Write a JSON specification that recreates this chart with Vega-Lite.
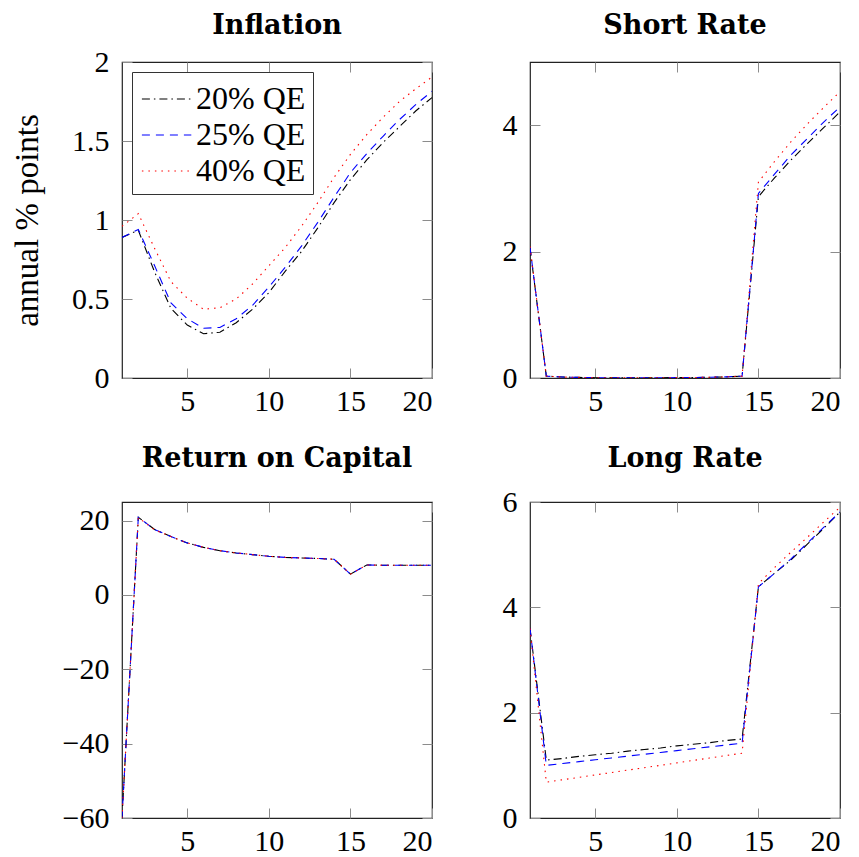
{
  "$schema": "https://vega.github.io/schema/vega-lite/v6.json",
  "padding": {"left": 10, "top": 10, "right": 5, "bottom": 5},
  "config": {
    "font": "Liberation Serif",
    "view": {"stroke": "#222222", "strokeWidth": 1.2},
    "axis": {
      "grid": false,
      "domain": false,
      "tickSize": -10,
      "tickColor": "#8c8c8c",
      "tickWidth": 1,
      "format": "~f",
      "labelFont": "Liberation Serif",
      "labelFontSize": 30,
      "labelColor": "#000000",
      "titleFont": "Liberation Serif",
      "titleFontSize": 33,
      "titleFontWeight": "normal",
      "titleColor": "#000000"
    },
    "title": {"font": "DejaVu Serif", "fontSize": 27, "fontWeight": "bold", "color": "#000000", "frame": "group", "anchor": "middle", "baseline": "alphabetic"},
    "line": {"strokeWidth": 1.1}
  },
  "datasets": {
    "infl": [
      {"t":1,"s":"20% QE","v":0.89},{"t":1,"s":"25% QE","v":0.89},{"t":1,"s":"40% QE","v":0.96},
      {"t":2,"s":"20% QE","v":0.935},{"t":2,"s":"25% QE","v":0.94},{"t":2,"s":"40% QE","v":1.04},
      {"t":3,"s":"20% QE","v":0.67},{"t":3,"s":"25% QE","v":0.71},{"t":3,"s":"40% QE","v":0.82},
      {"t":4,"s":"20% QE","v":0.44},{"t":4,"s":"25% QE","v":0.475},{"t":4,"s":"40% QE","v":0.61},
      {"t":5,"s":"20% QE","v":0.335},{"t":5,"s":"25% QE","v":0.375},{"t":5,"s":"40% QE","v":0.505},
      {"t":6,"s":"20% QE","v":0.28},{"t":6,"s":"25% QE","v":0.315},{"t":6,"s":"40% QE","v":0.435},
      {"t":7,"s":"20% QE","v":0.29},{"t":7,"s":"25% QE","v":0.32},{"t":7,"s":"40% QE","v":0.445},
      {"t":8,"s":"20% QE","v":0.35},{"t":8,"s":"25% QE","v":0.375},{"t":8,"s":"40% QE","v":0.5},
      {"t":9,"s":"20% QE","v":0.435},{"t":9,"s":"25% QE","v":0.46},{"t":9,"s":"40% QE","v":0.595},
      {"t":10,"s":"20% QE","v":0.54},{"t":10,"s":"25% QE","v":0.575},{"t":10,"s":"40% QE","v":0.71},
      {"t":11,"s":"20% QE","v":0.675},{"t":11,"s":"25% QE","v":0.7},{"t":11,"s":"40% QE","v":0.825},
      {"t":12,"s":"20% QE","v":0.8},{"t":12,"s":"25% QE","v":0.835},{"t":12,"s":"40% QE","v":0.96},
      {"t":13,"s":"20% QE","v":0.95},{"t":13,"s":"25% QE","v":0.985},{"t":13,"s":"40% QE","v":1.11},
      {"t":14,"s":"20% QE","v":1.11},{"t":14,"s":"25% QE","v":1.145},{"t":14,"s":"40% QE","v":1.27},
      {"t":15,"s":"20% QE","v":1.255},{"t":15,"s":"25% QE","v":1.3},{"t":15,"s":"40% QE","v":1.415},
      {"t":16,"s":"20% QE","v":1.38},{"t":16,"s":"25% QE","v":1.42},{"t":16,"s":"40% QE","v":1.54},
      {"t":17,"s":"20% QE","v":1.49},{"t":17,"s":"25% QE","v":1.53},{"t":17,"s":"40% QE","v":1.65},
      {"t":18,"s":"20% QE","v":1.59},{"t":18,"s":"25% QE","v":1.635},{"t":18,"s":"40% QE","v":1.75},
      {"t":19,"s":"20% QE","v":1.69},{"t":19,"s":"25% QE","v":1.73},{"t":19,"s":"40% QE","v":1.83},
      {"t":20,"s":"20% QE","v":1.775},{"t":20,"s":"25% QE","v":1.815},{"t":20,"s":"40% QE","v":1.905}
    ],
    "short": [
      {"t":1,"s":"20% QE","v":2.06},{"t":1,"s":"25% QE","v":2.07},{"t":1,"s":"40% QE","v":2.08},
      {"t":2,"s":"20% QE","v":0.03},{"t":2,"s":"25% QE","v":0.03},{"t":2,"s":"40% QE","v":0.03},
      {"t":3,"s":"20% QE","v":0.015},{"t":3,"s":"25% QE","v":0.015},{"t":3,"s":"40% QE","v":0.015},
      {"t":4,"s":"20% QE","v":0.01},{"t":4,"s":"25% QE","v":0.01},{"t":4,"s":"40% QE","v":0.01},
      {"t":5,"s":"20% QE","v":0.005},{"t":5,"s":"25% QE","v":0.005},{"t":5,"s":"40% QE","v":0.005},
      {"t":6,"s":"20% QE","v":0.003},{"t":6,"s":"25% QE","v":0.003},{"t":6,"s":"40% QE","v":0.003},
      {"t":7,"s":"20% QE","v":0.003},{"t":7,"s":"25% QE","v":0.003},{"t":7,"s":"40% QE","v":0.003},
      {"t":8,"s":"20% QE","v":0.003},{"t":8,"s":"25% QE","v":0.003},{"t":8,"s":"40% QE","v":0.003},
      {"t":9,"s":"20% QE","v":0.004},{"t":9,"s":"25% QE","v":0.004},{"t":9,"s":"40% QE","v":0.004},
      {"t":10,"s":"20% QE","v":0.006},{"t":10,"s":"25% QE","v":0.006},{"t":10,"s":"40% QE","v":0.006},
      {"t":11,"s":"20% QE","v":0.008},{"t":11,"s":"25% QE","v":0.008},{"t":11,"s":"40% QE","v":0.008},
      {"t":12,"s":"20% QE","v":0.012},{"t":12,"s":"25% QE","v":0.012},{"t":12,"s":"40% QE","v":0.012},
      {"t":13,"s":"20% QE","v":0.018},{"t":13,"s":"25% QE","v":0.018},{"t":13,"s":"40% QE","v":0.018},
      {"t":14,"s":"20% QE","v":0.03},{"t":14,"s":"25% QE","v":0.03},{"t":14,"s":"40% QE","v":0.03},
      {"t":15,"s":"20% QE","v":2.87},{"t":15,"s":"25% QE","v":2.92},{"t":15,"s":"40% QE","v":3.1},
      {"t":16,"s":"20% QE","v":3.17},{"t":16,"s":"25% QE","v":3.23},{"t":16,"s":"40% QE","v":3.43},
      {"t":17,"s":"20% QE","v":3.45},{"t":17,"s":"25% QE","v":3.53},{"t":17,"s":"40% QE","v":3.74},
      {"t":18,"s":"20% QE","v":3.71},{"t":18,"s":"25% QE","v":3.79},{"t":18,"s":"40% QE","v":4.02},
      {"t":19,"s":"20% QE","v":3.96},{"t":19,"s":"25% QE","v":4.05},{"t":19,"s":"40% QE","v":4.28},
      {"t":20,"s":"20% QE","v":4.21},{"t":20,"s":"25% QE","v":4.29},{"t":20,"s":"40% QE","v":4.53}
    ],
    "roc": [
      {"t":1,"s":"20% QE","v":-60},{"t":1,"s":"25% QE","v":-60},{"t":1,"s":"40% QE","v":-60},
      {"t":2,"s":"20% QE","v":20.9},{"t":2,"s":"25% QE","v":20.9},{"t":2,"s":"40% QE","v":20.8},
      {"t":3,"s":"20% QE","v":17.6},{"t":3,"s":"25% QE","v":17.6},{"t":3,"s":"40% QE","v":17.5},
      {"t":4,"s":"20% QE","v":15.7},{"t":4,"s":"25% QE","v":15.7},{"t":4,"s":"40% QE","v":15.7},
      {"t":5,"s":"20% QE","v":14.0},{"t":5,"s":"25% QE","v":14.0},{"t":5,"s":"40% QE","v":14.0},
      {"t":6,"s":"20% QE","v":12.8},{"t":6,"s":"25% QE","v":12.8},{"t":6,"s":"40% QE","v":12.8},
      {"t":7,"s":"20% QE","v":11.9},{"t":7,"s":"25% QE","v":11.9},{"t":7,"s":"40% QE","v":11.9},
      {"t":8,"s":"20% QE","v":11.3},{"t":8,"s":"25% QE","v":11.3},{"t":8,"s":"40% QE","v":11.3},
      {"t":9,"s":"20% QE","v":10.85},{"t":9,"s":"25% QE","v":10.85},{"t":9,"s":"40% QE","v":10.85},
      {"t":10,"s":"20% QE","v":10.4},{"t":10,"s":"25% QE","v":10.4},{"t":10,"s":"40% QE","v":10.4},
      {"t":11,"s":"20% QE","v":10.1},{"t":11,"s":"25% QE","v":10.1},{"t":11,"s":"40% QE","v":10.1},
      {"t":12,"s":"20% QE","v":9.95},{"t":12,"s":"25% QE","v":9.95},{"t":12,"s":"40% QE","v":9.95},
      {"t":13,"s":"20% QE","v":9.8},{"t":13,"s":"25% QE","v":9.8},{"t":13,"s":"40% QE","v":9.8},
      {"t":14,"s":"20% QE","v":9.6},{"t":14,"s":"25% QE","v":9.6},{"t":14,"s":"40% QE","v":9.6},
      {"t":15,"s":"20% QE","v":5.6},{"t":15,"s":"25% QE","v":5.6},{"t":15,"s":"40% QE","v":5.6},
      {"t":16,"s":"20% QE","v":8.05},{"t":16,"s":"25% QE","v":8.05},{"t":16,"s":"40% QE","v":8.05},
      {"t":17,"s":"20% QE","v":8.0},{"t":17,"s":"25% QE","v":8.0},{"t":17,"s":"40% QE","v":8.0},
      {"t":18,"s":"20% QE","v":8.0},{"t":18,"s":"25% QE","v":8.0},{"t":18,"s":"40% QE","v":8.0},
      {"t":19,"s":"20% QE","v":8.0},{"t":19,"s":"25% QE","v":8.0},{"t":19,"s":"40% QE","v":8.0},
      {"t":20,"s":"20% QE","v":8.0},{"t":20,"s":"25% QE","v":8.0},{"t":20,"s":"40% QE","v":8.0}
    ],
    "long": [
      {"t":1,"s":"20% QE","v":3.6},{"t":1,"s":"25% QE","v":3.6},{"t":1,"s":"40% QE","v":3.6},
      {"t":2,"s":"20% QE","v":1.1},{"t":2,"s":"25% QE","v":1.0},{"t":2,"s":"40% QE","v":0.68},
      {"t":3,"s":"20% QE","v":1.13},{"t":3,"s":"25% QE","v":1.035},{"t":3,"s":"40% QE","v":0.726},
      {"t":4,"s":"20% QE","v":1.17},{"t":4,"s":"25% QE","v":1.07},{"t":4,"s":"40% QE","v":0.772},
      {"t":5,"s":"20% QE","v":1.2},{"t":5,"s":"25% QE","v":1.105},{"t":5,"s":"40% QE","v":0.818},
      {"t":6,"s":"20% QE","v":1.23},{"t":6,"s":"25% QE","v":1.14},{"t":6,"s":"40% QE","v":0.864},
      {"t":7,"s":"20% QE","v":1.27},{"t":7,"s":"25% QE","v":1.175},{"t":7,"s":"40% QE","v":0.91},
      {"t":8,"s":"20% QE","v":1.3},{"t":8,"s":"25% QE","v":1.21},{"t":8,"s":"40% QE","v":0.955},
      {"t":9,"s":"20% QE","v":1.33},{"t":9,"s":"25% QE","v":1.245},{"t":9,"s":"40% QE","v":1.0},
      {"t":10,"s":"20% QE","v":1.37},{"t":10,"s":"25% QE","v":1.28},{"t":10,"s":"40% QE","v":1.047},
      {"t":11,"s":"20% QE","v":1.4},{"t":11,"s":"25% QE","v":1.315},{"t":11,"s":"40% QE","v":1.093},
      {"t":12,"s":"20% QE","v":1.43},{"t":12,"s":"25% QE","v":1.35},{"t":12,"s":"40% QE","v":1.139},
      {"t":13,"s":"20% QE","v":1.47},{"t":13,"s":"25% QE","v":1.385},{"t":13,"s":"40% QE","v":1.185},
      {"t":14,"s":"20% QE","v":1.5},{"t":14,"s":"25% QE","v":1.42},{"t":14,"s":"40% QE","v":1.23},
      {"t":15,"s":"20% QE","v":4.39},{"t":15,"s":"25% QE","v":4.39},{"t":15,"s":"40% QE","v":4.45},
      {"t":16,"s":"20% QE","v":4.65},{"t":16,"s":"25% QE","v":4.65},{"t":16,"s":"40% QE","v":4.76},
      {"t":17,"s":"20% QE","v":4.9},{"t":17,"s":"25% QE","v":4.92},{"t":17,"s":"40% QE","v":5.05},
      {"t":18,"s":"20% QE","v":5.2},{"t":18,"s":"25% QE","v":5.22},{"t":18,"s":"40% QE","v":5.33},
      {"t":19,"s":"20% QE","v":5.5},{"t":19,"s":"25% QE","v":5.52},{"t":19,"s":"40% QE","v":5.62},
      {"t":20,"s":"20% QE","v":5.81},{"t":20,"s":"25% QE","v":5.81},{"t":20,"s":"40% QE","v":5.9}
    ]
  },
  "columns": 2,
  "spacing": {"row": 124, "column": 98},
  "bounds": "flush",
  "resolve": {"scale": {"color": "independent", "strokeDash": "independent"}},
  "concat": [
    {
      "width": 310, "height": 316,
      "title": {"text": "Inflation", "offset": 7},
      "data": {"name": "infl"},
      "layer": [
        {
          "mark": {"type": "line", "clip": true},
          "encoding": {
            "x": {"field": "t", "type": "quantitative", "scale": {"domain": [1, 20], "nice": false, "zero": false}, "axis": {"values": [5, 10, 15, 20], "title": null, "labelPadding": 18}},
            "y": {"field": "v", "type": "quantitative", "scale": {"domain": [0, 2], "nice": false, "zero": false}, "axis": {"values": [0, 0.5, 1, 1.5, 2], "title": "annual % points", "labelPadding": 23, "titlePadding": 27}},
            "color": {"field": "s", "type": "nominal", "scale": {"domain": ["20% QE", "25% QE", "40% QE"], "range": ["#000000", "#0000ff", "#ff0000"]},
              "legend": {"title": null, "orient": "top-left", "offset": 10, "strokeColor": "#333333", "fillColor": "#ffffff", "padding": 7, "symbolType": "M-0.9,0H1.7", "symbolSize": 1444, "symbolStrokeWidth": 1.1, "labelFontSize": 32, "labelFont": "Liberation Serif", "labelColor": "#000000", "labelOffset": 17, "rowPadding": 0, "labelLimit": 300}},
            "strokeDash": {"field": "s", "type": "nominal", "scale": {"domain": ["20% QE", "25% QE", "40% QE"], "range": [[8, 4, 1.5, 4], [8, 6], [1.5, 5]]}, "legend": null}
          }
        },
        {
          "mark": {"type": "point", "opacity": 0},
          "encoding": {
            "x": {"field": "t", "type": "quantitative", "axis": {"orient": "top", "values": [5, 10, 15, 20], "labels": false, "title": null}},
            "y": {"field": "v", "type": "quantitative", "axis": {"orient": "right", "values": [0, 0.5, 1, 1.5, 2], "labels": false, "title": null}}
          }
        }
      ],
      "resolve": {"axis": {"x": "independent", "y": "independent"}}
    },
    {
      "width": 310, "height": 316,
      "title": {"text": "Short Rate", "offset": 22},
      "data": {"name": "short"},
      "layer": [
        {
          "mark": {"type": "line", "clip": true},
          "encoding": {
            "x": {"field": "t", "type": "quantitative", "scale": {"domain": [1, 20], "nice": false, "zero": false}, "axis": {"values": [5, 10, 15, 20], "title": null, "labelPadding": 18}},
            "y": {"field": "v", "type": "quantitative", "scale": {"domain": [0, 5], "nice": false, "zero": false}, "axis": {"values": [0, 2, 4], "title": null, "labelPadding": 23}},
            "color": {"field": "s", "type": "nominal", "scale": {"domain": ["20% QE", "25% QE", "40% QE"], "range": ["#000000", "#0000ff", "#ff0000"]}, "legend": null},
            "strokeDash": {"field": "s", "type": "nominal", "scale": {"domain": ["20% QE", "25% QE", "40% QE"], "range": [[8, 4, 1.5, 4], [8, 6], [1.5, 5]]}, "legend": null}
          }
        },
        {
          "mark": {"type": "point", "opacity": 0},
          "encoding": {
            "x": {"field": "t", "type": "quantitative", "axis": {"orient": "top", "values": [5, 10, 15, 20], "labels": false, "title": null}},
            "y": {"field": "v", "type": "quantitative", "axis": {"orient": "right", "values": [0, 2, 4], "labels": false, "title": null}}
          }
        }
      ],
      "resolve": {"axis": {"x": "independent", "y": "independent"}}
    },
    {
      "width": 310, "height": 316,
      "title": {"text": "Return on Capital", "offset": 29},
      "data": {"name": "roc"},
      "layer": [
        {
          "mark": {"type": "line", "clip": true},
          "encoding": {
            "x": {"field": "t", "type": "quantitative", "scale": {"domain": [1, 20], "nice": false, "zero": false}, "axis": {"values": [5, 10, 15, 20], "title": null, "labelPadding": 18}},
            "y": {"field": "v", "type": "quantitative", "scale": {"domain": [-60, 25], "nice": false, "zero": false}, "axis": {"values": [-60, -40, -20, 0, 20], "title": null, "labelPadding": 23}},
            "color": {"field": "s", "type": "nominal", "scale": {"domain": ["20% QE", "25% QE", "40% QE"], "range": ["#000000", "#0000ff", "#ff0000"]}, "legend": null},
            "strokeDash": {"field": "s", "type": "nominal", "scale": {"domain": ["20% QE", "25% QE", "40% QE"], "range": [[8, 4, 1.5, 4], [8, 6], [1.5, 5]]}, "legend": null}
          }
        },
        {
          "mark": {"type": "point", "opacity": 0},
          "encoding": {
            "x": {"field": "t", "type": "quantitative", "axis": {"orient": "top", "values": [5, 10, 15, 20], "labels": false, "title": null}},
            "y": {"field": "v", "type": "quantitative", "axis": {"orient": "right", "values": [-60, -40, -20, 0, 20], "labels": false, "title": null}}
          }
        }
      ],
      "resolve": {"axis": {"x": "independent", "y": "independent"}}
    },
    {
      "width": 310, "height": 316,
      "title": {"text": "Long Rate", "offset": 14},
      "data": {"name": "long"},
      "layer": [
        {
          "mark": {"type": "line", "clip": true},
          "encoding": {
            "x": {"field": "t", "type": "quantitative", "scale": {"domain": [1, 20], "nice": false, "zero": false}, "axis": {"values": [5, 10, 15, 20], "title": null, "labelPadding": 18}},
            "y": {"field": "v", "type": "quantitative", "scale": {"domain": [0, 6], "nice": false, "zero": false}, "axis": {"values": [0, 2, 4, 6], "title": null, "labelPadding": 23}},
            "color": {"field": "s", "type": "nominal", "scale": {"domain": ["20% QE", "25% QE", "40% QE"], "range": ["#000000", "#0000ff", "#ff0000"]}, "legend": null},
            "strokeDash": {"field": "s", "type": "nominal", "scale": {"domain": ["20% QE", "25% QE", "40% QE"], "range": [[8, 4, 1.5, 4], [8, 6], [1.5, 5]]}, "legend": null}
          }
        },
        {
          "mark": {"type": "point", "opacity": 0},
          "encoding": {
            "x": {"field": "t", "type": "quantitative", "axis": {"orient": "top", "values": [5, 10, 15, 20], "labels": false, "title": null}},
            "y": {"field": "v", "type": "quantitative", "axis": {"orient": "right", "values": [0, 2, 4, 6], "labels": false, "title": null}}
          }
        }
      ],
      "resolve": {"axis": {"x": "independent", "y": "independent"}}
    }
  ]
}
